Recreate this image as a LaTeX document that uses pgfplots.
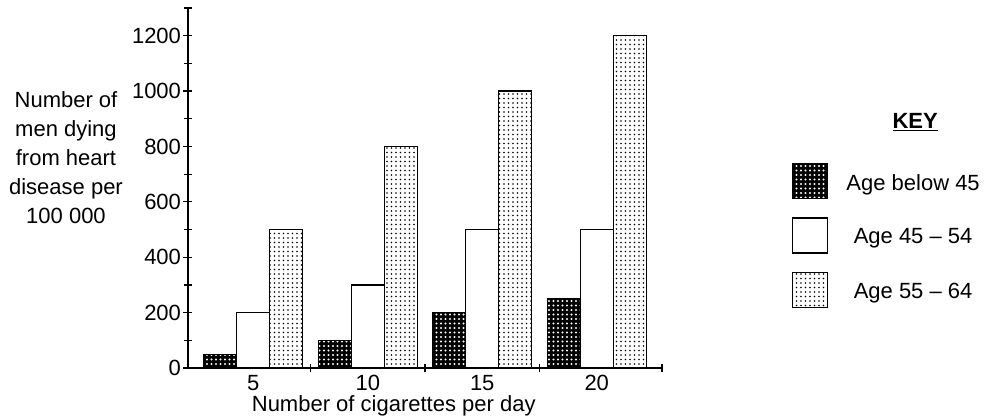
\documentclass[border=0pt]{standalone}
\usepackage{fontspec}
\setmainfont{Liberation Sans}
\usepackage{pgfplots}
\pgfplotsset{compat=1.18}
\usetikzlibrary{patterns.meta}
\newcommand\fs{\fontsize{22}{29}\selectfont}
\begin{document}
\begin{tikzpicture}
\path[use as bounding box] (-188pt,-50pt) rectangle (796pt,368pt);
\begin{axis}[
  at={(0pt,0pt)}, anchor=south west,
  scale only axis, width=474pt, height=360pt,
  xmin=-0.57, xmax=3.57, ymin=0, ymax=1300,
  axis x line=bottom, axis y line=left,
  axis line style={-, line width=1.5pt},
  ybar=0pt, bar width=33pt,
  xtick={0,1,2,3}, xticklabels={5,10,15,20},
  major x tick style={draw=none},
  minor xtick={0.5,1.5,2.5,3.57},
  minor x tick style={line width=1.2pt},
  ytick={0,200,...,1200}, minor ytick={100,300,...,1300},
  tick align=center, major tick length=9pt, minor tick length=8pt,
  every tick/.style={line width=1.2pt, black},
  /pgf/number format/assume math mode=true,
  /pgf/number format/1000 sep={},
  tick label style={font=\fs},
  xticklabel style={anchor=base, yshift=-18pt},
  yticklabel style={xshift=1pt},
  legend style={draw=none, fill=none, at={(rel axis cs:1.268,0.575)}, anchor=north west,
    font=\fs, row sep=18pt, nodes={inner sep=0pt},
    /tikz/every odd column/.append style={column sep=18pt}},
  legend cell align=center,
  legend image code/.code={\draw[#1] (0pt,-16pt) rectangle (35pt,19pt);},
  clip=false,
]
\addplot[draw=black, line width=1.2pt, fill=black,
  postaction={pattern={Dots[distance=4.5pt,radius=1.1pt]}, pattern color=white}]
  coordinates {(0,50) (1,100) (2,200) (3,250)};
\addplot[draw=black, line width=1.2pt, fill=white]
  coordinates {(0,200) (1,300) (2,500) (3,500)};
\addplot[draw=black, line width=1.2pt, fill=white,
  postaction={pattern={Dots[distance=4.5pt,radius=0.95pt]}, pattern color=black}]
  coordinates {(0,500) (1,800) (2,1000) (3,1200)};
\legend{Age below 45, Age 45 -- 54, Age 55 -- 64}
\node[align=center, font=\fontsize{22}{29}\selectfont, xshift=-122pt] at (rel axis cs:0,0.585)
  {Number of\\men dying\\from heart\\disease per\\100 000};
\node[font=\fs, anchor=base, yshift=-43pt] at (rel axis cs:0.434,0) {Number of cigarettes per day};
\node[font=\fs\bfseries] at (rel axis cs:1.534,0.684) {\underline{KEY}};
\end{axis}
\end{tikzpicture}
\end{document}
